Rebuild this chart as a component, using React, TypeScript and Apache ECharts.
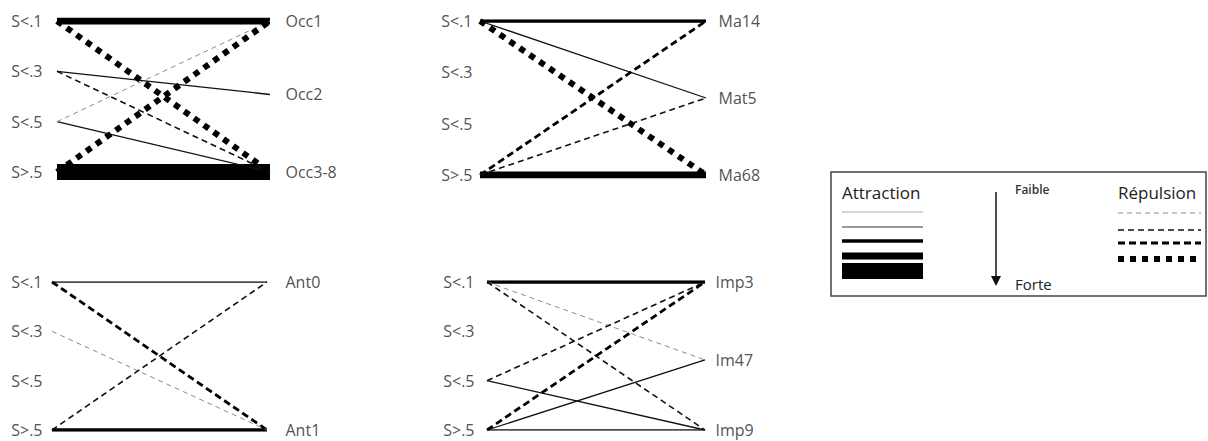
import React, { useEffect, useRef } from "react";
import * as echarts from "echarts";

// ---- data ----
const LEFT_NODES = ["S<.1", "S<.3", "S<.5", "S>.5"];
const LEFT_POS = [0, 1, 2, 3];

const OCC_NODES = ["Occ1", "Occ2", "Occ3-8"];
const OCC_POS = [0, 1.46, 3];
// [leftIndex, rightIndex, kind (A = attraction, R = répulsion), level]
const OCC_LINKS: [number, number, string, number][] = [
  [3, 2, "A", 5],
  [0, 0, "A", 4],
  [1, 1, "A", 2],
  [2, 2, "A", 2],
  [1, 2, "R", 2],
  [2, 0, "R", 1],
  [0, 2, "R", 4],
  [3, 0, "R", 4],
];

const MA_NODES = ["Ma14", "Mat5", "Ma68"];
const MA_POS = [0, 1.5, 3];
const MA_LINKS: [number, number, string, number][] = [
  [0, 0, "A", 3],
  [3, 2, "A", 4],
  [0, 1, "A", 2],
  [3, 0, "R", 3],
  [3, 1, "R", 2],
  [0, 2, "R", 4],
];

const ANT_NODES = ["Ant0", "Ant1"];
const ANT_POS = [0, 3];
const ANT_LINKS: [number, number, string, number][] = [
  [0, 0, "A", 2],
  [3, 1, "A", 3],
  [0, 1, "R", 3],
  [1, 1, "R", 1],
  [3, 0, "R", 2],
];

const IMP_NODES = ["Imp3", "Im47", "Imp9"];
const IMP_POS = [0, 1.58, 3];
const IMP_LINKS: [number, number, string, number][] = [
  [0, 0, "A", 3],
  [2, 2, "A", 2],
  [3, 1, "A", 2],
  [3, 2, "A", 2],
  [0, 1, "R", 1],
  [0, 2, "R", 2],
  [2, 0, "R", 2],
  [3, 0, "R", 3],
];

// ---- styles ----
const ATT_STYLE: Record<number, { width: number; color: string }> = {
  1: { width: 1, color: "#aaaaaa" },
  2: { width: 1.3, color: "#111111" },
  3: { width: 3.5, color: "#000000" },
  4: { width: 7, color: "#000000" },
  5: { width: 16, color: "#000000" },
};
const REP_STYLE: Record<number, { width: number; color: string; dash: number[] }> = {
  1: { width: 1, color: "#8a8a8a", dash: [5, 4] },
  2: { width: 1.6, color: "#111111", dash: [6, 4] },
  3: { width: 2.8, color: "#000000", dash: [7, 4] },
  4: { width: 6, color: "#000000", dash: [6, 6] },
};

const PANELS = [
  { nodes: OCC_NODES, pos: OCC_POS, links: OCC_LINKS, grid: { left: 57, top: 21, width: 213, height: 151 }, ld: 14, rd: 15 },
  { nodes: MA_NODES, pos: MA_POS, links: MA_LINKS, grid: { left: 480, top: 21, width: 226, height: 154 }, ld: 7, rd: 12 },
  { nodes: ANT_NODES, pos: ANT_POS, links: ANT_LINKS, grid: { left: 52, top: 282, width: 215, height: 148 }, ld: 9, rd: 18 },
  { nodes: IMP_NODES, pos: IMP_POS, links: IMP_LINKS, grid: { left: 487, top: 282, width: 218, height: 148 }, ld: 12, rd: 10 },
];

const FONT = "'Open Sans', 'Noto Sans', sans-serif";

function buildOption() {
  const grids: any[] = [];
  const xAxes: any[] = [];
  const yAxes: any[] = [];
  const series: any[] = [];
  PANELS.forEach((p, k) => {
    grids.push({ ...p.grid, containLabel: false });
    xAxes.push({ type: "value", gridIndex: k, min: 0, max: 1, show: false });
    yAxes.push({ type: "value", gridIndex: k, min: 0, max: 3, inverse: true, show: false });
    p.links.forEach(([from, to, kind, level], i) => {
      const st = kind === "A" ? ATT_STYLE[level] : REP_STYLE[level];
      series.push({
        type: "line",
        name: `p${k}-l${i}`,
        xAxisIndex: k,
        yAxisIndex: k,
        data: [
          [0, LEFT_POS[from]],
          [1, p.pos[to]],
        ],
        symbol: "none",
        silent: true,
        z: kind === "A" ? 2 : 3,
        lineStyle: {
          width: st.width,
          color: st.color,
          type: kind === "A" ? "solid" : (st as any).dash,
          cap: "butt",
        },
      });
    });
    series.push({
      type: "scatter",
      xAxisIndex: k,
      yAxisIndex: k,
      symbolSize: 1,
      itemStyle: { color: "transparent" },
      silent: true,
      z: 5,
      data: LEFT_NODES.map((n, i) => ({ name: n, value: [0, LEFT_POS[i]] })),
      label: {
        show: true,
        position: "left",
        distance: p.ld,
        formatter: "{b}",
        fontFamily: FONT,
        fontSize: 16,
        color: "#222",
      },
    });
    series.push({
      type: "scatter",
      xAxisIndex: k,
      yAxisIndex: k,
      symbolSize: 1,
      itemStyle: { color: "transparent" },
      silent: true,
      z: 5,
      data: p.nodes.map((n, i) => ({ name: n, value: [1, p.pos[i]] })),
      label: {
        show: true,
        position: "right",
        distance: p.rd,
        formatter: "{b}",
        fontFamily: FONT,
        fontSize: 16,
        color: "#222",
      },
    });
  });

  // legend key (drawn as graphic)
  const attY = [212, 227, 241, 256, 271];
  const repY = [213, 230, 243, 259];
  const graphic: any[] = [
    { type: "rect", shape: { x: 831, y: 172, width: 375, height: 124 }, style: { fill: "none", stroke: "#444", lineWidth: 1.5 } },
    { type: "text", x: 842, y: 192, style: { text: "Attraction", font: `17px ${FONT}`, fill: "#222", verticalAlign: "middle" } },
    { type: "text", x: 1118, y: 192, style: { text: "Répulsion", font: `17px ${FONT}`, fill: "#222", verticalAlign: "middle" } },
    { type: "text", x: 1015, y: 189, style: { text: "Faible", font: `600 12px ${FONT}`, fill: "#333", verticalAlign: "middle" } },
    { type: "text", x: 1015, y: 284, style: { text: "Forte", font: `15px ${FONT}`, fill: "#222", verticalAlign: "middle" } },
    { type: "line", shape: { x1: 996, y1: 192, x2: 996, y2: 278 }, style: { stroke: "#111", lineWidth: 1.5 } },
    { type: "polygon", shape: { points: [[991, 276], [1001, 276], [996, 286]] }, style: { fill: "#111" } },
  ];
  [1, 2, 3, 4, 5].forEach((lv, i) => {
    const st = ATT_STYLE[lv];
    graphic.push({
      type: "line",
      shape: { x1: 842, y1: attY[i], x2: 923, y2: attY[i] },
      style: { stroke: lv === 2 ? "#777" : st.color, lineWidth: st.width },
    });
  });
  [1, 2, 3, 4].forEach((lv, i) => {
    const st = REP_STYLE[lv];
    graphic.push({
      type: "line",
      shape: { x1: 1118, y1: repY[i], x2: 1201, y2: repY[i] },
      style: { stroke: st.color, lineWidth: st.width, lineDash: st.dash },
    });
  });

  return {
    animation: false,
    backgroundColor: "#ffffff",
    grid: grids,
    xAxis: xAxes,
    yAxis: yAxes,
    series,
    graphic,
  };
}

export default function App() {
  const ref = useRef<HTMLDivElement>(null);
  useEffect(() => {
    if (!ref.current) return;
    const chart = echarts.init(ref.current, undefined, { renderer: "svg" });
    chart.setOption(buildOption());
    return () => chart.dispose();
  }, []);
  return (
    <div
      ref={ref}
      style={{ position: "absolute", left: 0, top: 0, width: 1208, height: 441, background: "#fff" }}
    />
  );
}
